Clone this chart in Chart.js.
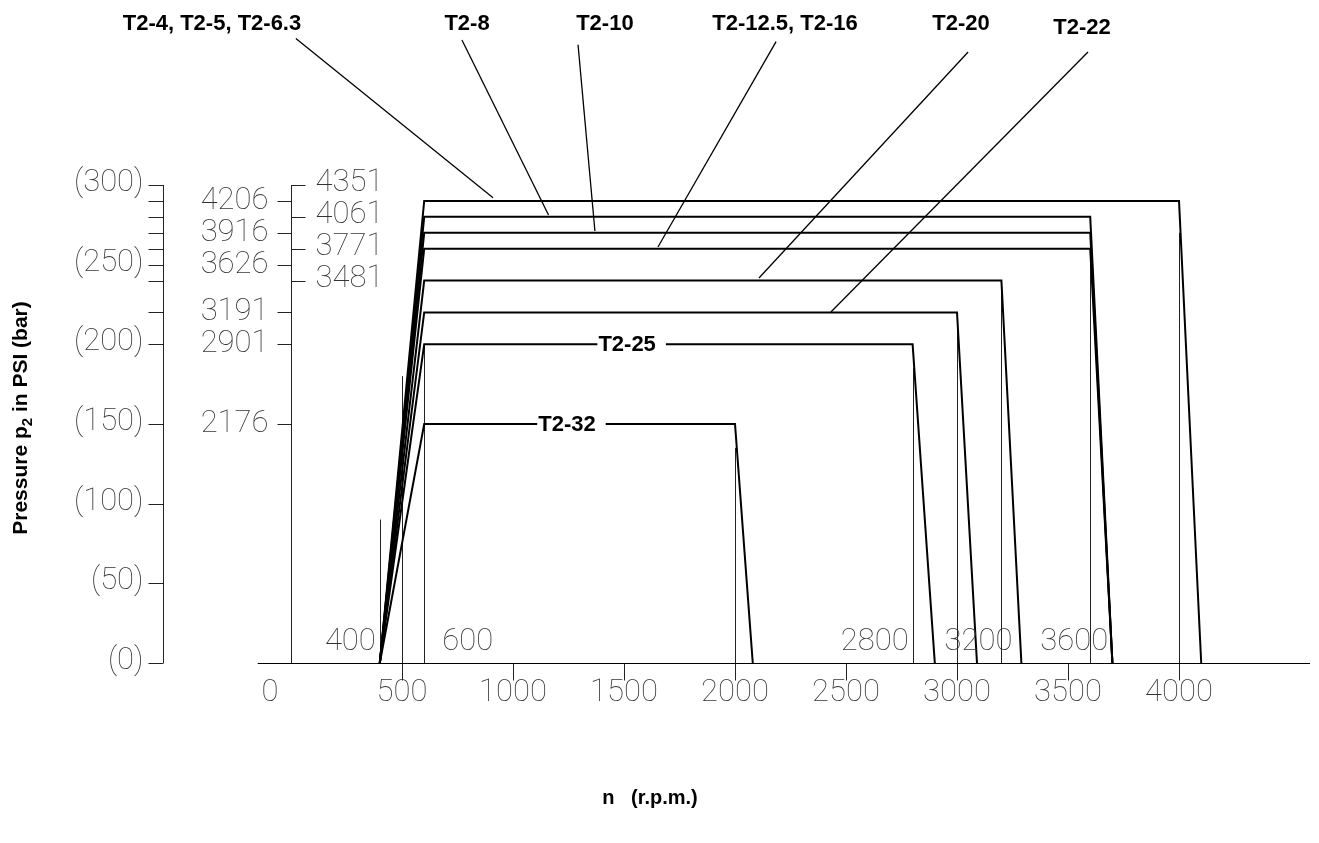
<!DOCTYPE html>
<html>
<head>
<meta charset="utf-8">
<script src="https://cdn.jsdelivr.net/npm/chart.js@4/dist/chart.umd.min.js"></script>
<style>
  html, body { margin: 0; padding: 0; background: #ffffff; }
  #c { display: block; }
</style>
</head>
<body>
<canvas id="c" width="1319" height="843"></canvas>
<script>
// ---------------- DATA ----------------
const seriesLabels = ['T2-4, T2-5, T2-6.3', 'T2-8', 'T2-10', 'T2-12.5, T2-16', 'T2-20', 'T2-22', 'T2-25', 'T2-32'];
const startRpm     = [400, 400, 400, 400, 400, 400, 400, 400];
const rampEndRpm   = [600, 600, 600, 600, 600, 600, 600, 600];
const pressureBar  = [290, 280, 270, 260, 240, 220, 200, 150];
const maxRpm       = [4000, 3600, 3600, 3600, 3200, 3000, 2800, 2000];
const cutoffRpm    = [4100, 3700, 3700, 3700, 3290, 3090, 2900, 2080];

const rpmTicks      = [0, 500, 1000, 1500, 2000, 2500, 3000, 3500, 4000];
const rpmMarks      = [400, 600, 2800, 3200, 3600];
const barTicks      = [0, 50, 100, 150, 200, 250, 300];
const barMinorTicks = [220, 240, 260, 270, 280, 290];
const psiTicksLeft  = [4206, 3916, 3626, 3191, 2901, 2176];
const psiTicksRight = [4351, 4061, 3771, 3481];
const PSI_PER_BAR   = 14.5038;

// thin reference lines: rpm, from bar, to bar
const refRpm  = [400, 500, 600, 2000, 2800, 3000, 3200, 3600, 4000, 1000, 1500, 2500, 3500];
const refFrom = [0, -11, 0, -11, 0, -11, 0, 0, -11, -11, -11, -11, -11];
const refTo   = [90, 180, 200, 135, 185, 220, 240, 260, 270, 0, 0, 0, 0];

// callout labels (series index) with anchor in data units (rpm, bar)
const calloutSeries  = [0, 1, 2, 3, 4, 5];
const calloutTextRpm = [-356, 793, 1414, 2225, 3018, 3563];
const calloutTextBar = [397, 397, 397, 397, 397, 395];
const leaderFromRpm  = [22, 770, 1293, 2185, 3050, 3590];
const leaderFromBar  = [392, 391, 388, 390, 383.5, 383.5];
const leaderToRpm    = [910, 1160, 1369, 1653, 2108, 2432];
const leaderToBar    = [292, 281.2, 271.1, 261.1, 241.6, 220.3];

// inline labels
const inlineSeries = [6, 7];
const inlineRpm    = [1514, 1243];

// ---------------- STYLE ----------------
const TECH_FONT = '100 31px Roboto, "DejaVu Sans", sans-serif';
const TECH_COLOR = '#333333';
const BOLD_FONT = 'bold 22px "Liberation Sans", Arial, sans-serif';

const datasets = seriesLabels.map((name, i) => ({
  label: name,
  data: [
    { x: startRpm[i], y: 0 },
    { x: rampEndRpm[i], y: pressureBar[i] },
    { x: maxRpm[i], y: pressureBar[i] },
    { x: cutoffRpm[i], y: 0 }
  ],
  showLine: true,
  borderColor: '#000000',
  borderWidth: 2,
  pointRadius: 0,
  tension: 0,
  fill: false,
  clip: false
}));

function txt(ctx, s, x, y, font, color, align, base) {
  ctx.font = font;
  ctx.fillStyle = color;
  ctx.textAlign = align || 'center';
  ctx.textBaseline = base || 'middle';
  ctx.fillText(s, x, y);
}
function line(ctx, x1, y1, x2, y2, w, color) {
  ctx.beginPath();
  ctx.lineWidth = w;
  ctx.strokeStyle = color || '#000';
  ctx.moveTo(x1, y1);
  ctx.lineTo(x2, y2);
  ctx.stroke();
}

const drawingPlugin = {
  id: 'techDrawing',
  beforeDatasetsDraw(chart) {
    const ctx = chart.ctx;
    const xs = chart.scales.x, ys = chart.scales.y;
    ctx.save();
    ctx.lineCap = 'butt';
    refRpm.forEach((r, i) => {
      const x = Math.round(xs.getPixelForValue(r)) + 0.5;
      line(ctx, x, ys.getPixelForValue(refFrom[i]), x, ys.getPixelForValue(refTo[i]), 1, '#222');
    });
    ctx.restore();
  },
  afterDatasetsDraw(chart) {
    const ctx = chart.ctx;
    const xs = chart.scales.x, ys = chart.scales.y;
    ctx.save();
    const y0 = ys.getPixelForValue(0);
    const x0 = xs.getPixelForValue(0);

    // x axis line
    line(ctx, chart.chartArea.left, Math.round(y0) + 0.5, chart.chartArea.right, Math.round(y0) + 0.5, 1.2, '#000');

    rpmTicks.forEach(v => {
      const dx = v === 0 ? -21 : 0;
      txt(ctx, String(v), xs.getPixelForValue(v) + dx, y0 + 30, TECH_FONT, TECH_COLOR, 'center', 'middle');
    });
    const markAlign = ['right', 'left', 'right', 'right', 'right'];
    const markDx = [-4, 18, -4, 11, 18];
    rpmMarks.forEach((v, i) => {
      txt(ctx, String(v), xs.getPixelForValue(v) + markDx[i], y0 - 21, TECH_FONT, TECH_COLOR, markAlign[i], 'middle');
    });

    // PSI axis (at rpm 0)
    const psiX = Math.round(x0) + 0.5;
    const top = ys.getPixelForValue(300);
    line(ctx, psiX, top, psiX, y0, 1, '#222');
    psiTicksLeft.forEach(p => {
      const y = Math.round(ys.getPixelForValue(p / PSI_PER_BAR)) + 0.5;
      line(ctx, psiX - 14, y, psiX, y, 1, '#222');
      txt(ctx, String(p), psiX - 23, y, TECH_FONT, TECH_COLOR, 'right', 'middle');
    });
    psiTicksRight.forEach(p => {
      const y = Math.round(ys.getPixelForValue(p / PSI_PER_BAR)) + 0.5;
      line(ctx, psiX, y, psiX + 14, y, 1, '#222');
      txt(ctx, String(p), psiX + 24, y - 2, TECH_FONT, TECH_COLOR, 'left', 'middle');
    });

    // bar axis
    const barX = psiX - 128;
    line(ctx, barX, top, barX, y0, 1, '#222');
    barTicks.forEach(b => {
      const y = Math.round(ys.getPixelForValue(b)) + 0.5;
      line(ctx, barX - 15, y, barX, y, 1, '#222');
      txt(ctx, '(' + b + ')', barX - 20, y - 2, TECH_FONT, TECH_COLOR, 'right', 'middle');
    });
    barMinorTicks.forEach(b => {
      const y = Math.round(ys.getPixelForValue(b)) + 0.5;
      line(ctx, barX - 15, y, barX, y, 1, '#222');
    });

    // callouts with leader lines
    calloutSeries.forEach((s, i) => {
      txt(ctx, seriesLabels[s], xs.getPixelForValue(calloutTextRpm[i]), ys.getPixelForValue(calloutTextBar[i]),
          BOLD_FONT, '#000', 'center', 'alphabetic');
      line(ctx, xs.getPixelForValue(leaderFromRpm[i]), ys.getPixelForValue(leaderFromBar[i]),
                xs.getPixelForValue(leaderToRpm[i]), ys.getPixelForValue(leaderToBar[i]), 1.3, '#000');
    });

    // inline labels breaking the line
    inlineSeries.forEach((s, i) => {
      ctx.font = BOLD_FONT;
      const w = ctx.measureText(seriesLabels[s]).width;
      const cx = xs.getPixelForValue(inlineRpm[i]);
      const cy = ys.getPixelForValue(pressureBar[s]);
      ctx.fillStyle = '#ffffff';
      ctx.fillRect(cx - w / 2 - 1, cy - 4, w + 11, 8);
      txt(ctx, seriesLabels[s], cx, cy + 1, BOLD_FONT, '#000', 'center', 'middle');
    });

    // axis titles
    ctx.save();
    ctx.translate(27, 418);
    ctx.rotate(-Math.PI / 2);
    const f1 = 'bold 21px "Liberation Sans", Arial, sans-serif';
    const f2 = 'bold 15px "Liberation Sans", Arial, sans-serif';
    const parts = [['Pressure p', f1, 0], ['2', f2, 5], [' in PSI (bar)', f1, 0]];
    let total = 0;
    parts.forEach(p => { ctx.font = p[1]; total += ctx.measureText(p[0]).width; });
    let px = -total / 2;
    parts.forEach(p => {
      ctx.font = p[1];
      ctx.fillStyle = '#000';
      ctx.textAlign = 'left';
      ctx.textBaseline = 'alphabetic';
      ctx.fillText(p[0], px, p[2]);
      px += ctx.measureText(p[0]).width;
    });
    ctx.restore();

    txt(ctx, 'n   (r.p.m.)', 650, 804, 'bold 20px "Liberation Sans", Arial, sans-serif', '#000', 'center', 'alphabetic');
    ctx.restore();
  }
};

new Chart(document.getElementById('c'), {
  type: 'scatter',
  data: { datasets },
  options: {
    responsive: false,
    animation: false,
    devicePixelRatio: 1,
    layout: { padding: { left: 257.7, right: 9, top: 169.07, bottom: 162.5 } },
    plugins: { legend: { display: false }, tooltip: { enabled: false } },
    scales: {
      x: { type: 'linear', display: false, min: -150, max: 4590 },
      y: { type: 'linear', display: false, min: -11, max: 310 }
    }
  },
  plugins: [drawingPlugin]
});
</script>
</body>
</html>
